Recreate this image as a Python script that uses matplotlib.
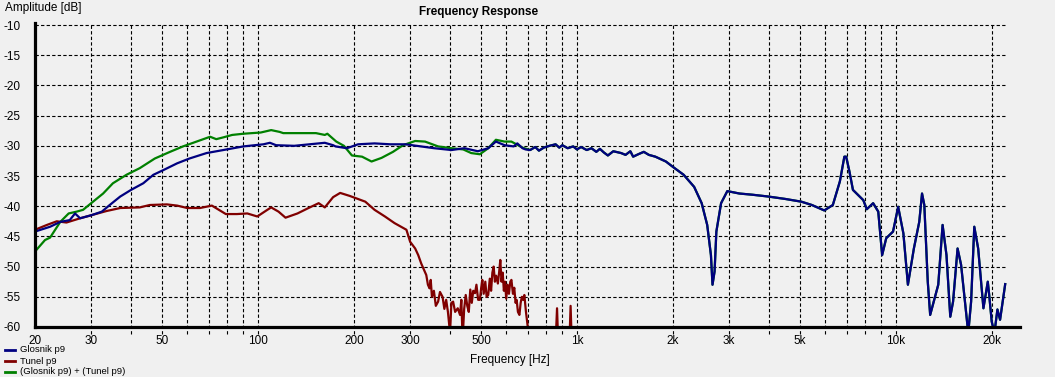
import matplotlib
matplotlib.use("Agg")
import matplotlib.pyplot as plt
from matplotlib.lines import Line2D

plt.rcParams['font.family'] = ['Liberation Sans', 'DejaVu Sans']

# ---- data ----
glosnik_f = [20, 22.3, 24.0, 25.7, 26.7, 27.7, 30, 32.4, 34.3, 37.0, 40, 43.7, 47.0, 50.6, 55.8, 61.0,
             69.0, 77.9, 90, 104, 109, 114, 130, 162, 172, 175, 190, 206, 232, 260, 290, 325, 357, 404,
             444, 489, 527, 557, 593, 633, 650, 675, 690, 713, 740, 760, 787, 820, 857, 880, 900, 935,
             973, 1000, 1030, 1073, 1110, 1150, 1180, 1214, 1250, 1300, 1375, 1420, 1470, 1500, 1556,
             1620, 1680, 1761,
             1900, 2000, 2160, 2330, 2460, 2560, 2630, 2660, 2700, 2735, 2830, 2960, 3230, 3550, 3980,
             4500, 5050, 5450, 5960, 6340, 6670, 6890, 6980, 7150, 7330, 7900, 8100, 8480, 8800, 9050,
             9320, 9790, 10160, 10550, 10900, 11380, 11830, 12070, 12270, 12580, 12800, 13570, 14000,
             14400, 14800, 15100, 15600, 16000, 16850, 17200, 17600, 18100, 18800, 19400, 19600, 19960,
             20350, 20800, 21200, 21600, 22000]
glosnik_db = [-44.2, -43.4, -42.6, -42.3, -41.2, -42.0, -41.5, -40.9, -39.8, -38.4, -37.3, -36.2, -34.8,
              -34.0, -32.9, -32.1, -31.2, -30.7, -30.1, -29.75, -29.5, -29.9, -30.0, -29.5, -29.9, -30.1,
              -30.4, -29.75, -29.6, -29.75, -29.75, -30.1, -30.4, -30.7, -30.4, -30.9, -30.4, -29.3,
              -29.9, -30.1, -29.6, -30.4, -30.6, -30.7, -30.2, -30.8, -30.3, -30.0, -29.75, -30.3, -29.9,
              -30.4, -30.1, -30.6, -30.2, -30.7, -30.4, -31.0, -30.5, -31.1, -31.6, -30.9, -31.2, -31.5,
              -30.9, -31.8, -31.4, -31.0, -31.5, -31.8,
              -32.6, -33.5, -34.8, -36.8, -39.5, -43.1, -48.1, -53.0, -50.8, -44.2, -39.5,
              -37.5, -37.9, -38.1, -38.4, -38.8, -39.25, -39.8, -40.7, -39.8, -35.9, -31.8, -31.8,
              -34.3, -37.3, -39.0, -40.5, -39.5, -40.9, -48.1, -45.3, -44.2, -40.1, -44.5, -53.0,
              -47.0, -42.6, -37.9, -39.8, -52.5, -58.0, -53.0, -43.1, -48.1, -58.3, -55.8, -47.0,
              -49.7, -61.0, -55.8, -43.4, -47.0, -56.9, -52.5, -54.7, -59.1, -61.0, -57.1, -58.8,
              -55.8, -52.9]

tunel_f = [20, 21.8, 23.4, 25.1, 27.7, 30, 33.5, 37, 42.6, 45.8, 51.8, 55.8, 60, 65.8, 71.7, 75.4,
           79.3, 85.9, 92.6, 99.5, 107, 110, 116, 122, 133, 144, 155, 162, 172, 181, 194, 217, 232,
           250, 268, 292, 300, 311, 318, 325, 337, 341, 345, 348, 351, 356, 361, 367, 372, 379, 384,
           389, 394, 400, 404, 409, 415, 423, 430, 434, 438, 443, 448, 453, 458, 463, 468, 473, 479,
           484, 490, 496, 501, 505, 510, 516, 521, 527, 533, 538, 543, 548, 553, 558, 565, 570, 575,
           580, 585, 590, 595, 600, 606, 612, 618, 623, 630, 636, 642, 647, 653, 660, 666, 672, 678,
           684, 692, 700, 710, 720, 855, 866, 875, 945, 955, 965, 1100]
tunel_db = [-43.9, -43.1, -42.5, -42.7, -42.0, -41.5, -40.8, -40.3, -40.2, -39.8, -39.7, -39.9, -40.3,
            -40.3, -39.9, -40.6, -41.3, -41.3, -41.2, -41.7, -40.6, -40.2, -40.9, -41.9, -41.2, -40.3,
            -39.5, -40.2, -38.5, -37.8, -38.3, -39.25, -40.6, -41.7, -42.8, -43.9, -45.9, -47.0, -48.1,
            -49.5, -51.4, -53.0, -53.6, -52.2, -55.0, -54.0, -56.5, -55.8, -54.2, -55.0, -57.0,
            -55.5, -57.5, -61.0, -56.0, -55.8, -57.5, -56.9, -58.0, -55.5, -62.0, -57.0, -54.7,
            -56.5, -57.5, -53.8, -56.0, -54.0, -54.4, -53.0, -55.5, -55.5, -53.5, -52.2, -54.5,
            -52.5, -55.0, -54.7, -52.0, -54.0, -51.0, -50.0, -52.5, -51.5, -52.8, -51.0, -48.9,
            -52.5, -51.0, -54.0, -52.5, -55.3, -53.0, -54.5, -52.5, -52.2, -54.5, -53.5, -56.0,
            -55.5, -57.5, -58.0, -56.0, -55.0, -55.5, -54.7, -57.5, -59.7, -62.0, -64.0, -64.0,
            -56.9, -64.0, -64.0, -56.5, -64.0, -66.0]

suma_low_f = [20, 21.5, 22.3, 24, 25.5, 27, 28.3, 30, 32.7, 35.1, 38.7, 42.6, 47.5, 53, 58.2, 64.2,
              70.8, 74, 77.9, 83, 90, 102, 110, 117, 120, 135, 152, 162, 165, 176, 186, 197, 212,
              227, 244, 265, 285, 311, 334, 367, 404, 440, 466, 496, 527, 557, 593, 623, 675]
suma_low_db = [-47.5, -45.6, -45.2, -42.6, -41.2, -40.9, -40.6, -39.5, -37.9, -36.2, -34.8, -33.7,
               -32.1, -31.0, -30.1, -29.3, -28.5, -28.9, -28.6, -28.2, -28.0, -27.8, -27.4, -27.7,
               -27.9, -27.9, -27.9, -28.2, -28.0, -29.3, -30.0, -31.6, -31.8, -32.6, -32.0, -31.0,
               -29.9, -29.2, -29.3, -30.1, -30.4, -30.6, -31.2, -31.4, -30.4, -29.0, -29.3, -29.3,
               -30.3]
# above ~700 Hz the sum coincides with the woofer curve
suma_f = suma_low_f + [f for f in glosnik_f if f > 700]
suma_db = suma_low_db + [d for f, d in zip(glosnik_f, glosnik_db) if f > 700]

y_ticks = [-10, -15, -20, -25, -30, -35, -40, -45, -50, -55, -60]
x_ticks = [20, 30, 50, 100, 200, 300, 500, 1000, 2000, 3000, 5000, 10000, 20000]
x_tick_labels = ['20', '30', '50', '100', '200', '300', '500', '1k', '2k', '3k', '5k', '10k', '20k']
x_grid = [30, 40, 50, 60, 70, 80, 90, 100, 200, 300, 400, 500, 600, 700, 800, 900,
          1000, 2000, 3000, 4000, 5000, 6000, 7000, 8000, 9000, 10000, 20000]
series_names = ['Glosnik p9', 'Tunel p9', '(Glosnik p9) + (Tunel p9)']
colors = ['#000080', '#800000', '#008000']

# ---- figure ----
W, H = 1055, 377
BG = '#f0f0f0'
fig = plt.figure(figsize=(W / 100, H / 100), dpi=100, facecolor=BG)
ax_left, ax_right = 35, 1020
ax_bottom, ax_top = 327, 22.6
ax = fig.add_axes([ax_left / W, 1 - ax_bottom / H, (ax_right - ax_left) / W, (ax_bottom - ax_top) / H])
ax.set_facecolor(BG)
ax.set_xscale('log')
ax.set_xlim(20, 24480)
ax.set_ylim(-60, -9.6)

dash = (0, (3, 2))
for yv in y_ticks[:-1]:
    ax.plot([20, 22000], [yv, yv], color='black', lw=0.8, ls=dash, zorder=1)
for xv in x_grid:
    ax.plot([xv, xv], [-61.1, -10], color='black', lw=0.8, ls=dash, zorder=1, clip_on=False)

lw = 1.6
ax.plot(suma_f, suma_db, color=colors[2], lw=lw, zorder=3)
ax.plot(tunel_f, tunel_db, color=colors[1], lw=lw, zorder=4)
ax.plot(glosnik_f, glosnik_db, color=colors[0], lw=lw, zorder=5)

for s in ['top', 'right']:
    ax.spines[s].set_visible(False)
for s in ['left', 'bottom']:
    ax.spines[s].set_linewidth(2.3)
    ax.spines[s].set_color('black')
    ax.spines[s].set_zorder(6)

fs = 8.5
ax.set_yticks(y_ticks)
ax.set_yticklabels([str(v) for v in y_ticks], fontsize=fs)
ax.set_xticks(x_ticks)
ax.set_xticklabels(x_tick_labels, fontsize=fs)
ax.xaxis.set_minor_locator(matplotlib.ticker.NullLocator())
ax.tick_params(axis='y', length=0, pad=10.5)
ax.tick_params(axis='x', length=0, pad=5.5)

fig.text(478.5 / W, 1 - 12.5 / H, 'Frequency Response', ha='center', va='center',
         fontsize=fs, fontweight='bold')
fig.text(5 / W, 1 - 7.5 / H, 'Amplitude [dB]', ha='left', va='center', fontsize=fs)
fig.text(510 / W, 1 - 360 / H, 'Frequency [Hz]', ha='center', va='center', fontsize=fs)

for i, (name, c) in enumerate(zip(series_names, colors)):
    yy = 1 - (350 + 11 * i) / H
    fig.add_artist(Line2D([5 / W, 15 / W], [yy, yy], color=c, lw=2, transform=fig.transFigure))
    fig.text(20 / W, yy, name, ha='left', va='center', fontsize=6.8)

fig.savefig('out.png', dpi=100, facecolor=BG)
